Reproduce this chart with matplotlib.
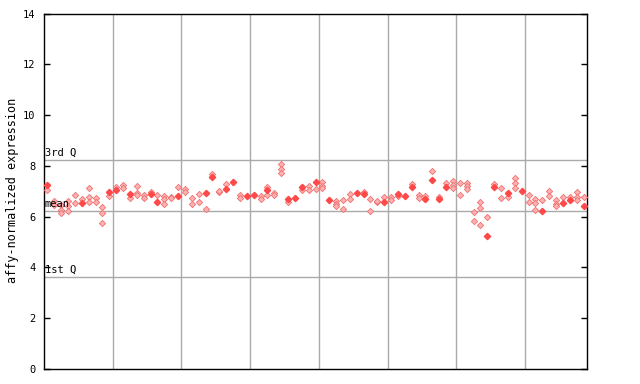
import matplotlib
matplotlib.use('Agg')
import matplotlib.pyplot as plt
import numpy as np

# values per sample position (hollow = checkered markers, filled = solid markers)
hollow = [
    [7.03], [6.60, 6.46], [6.46, 6.26, 6.14], [6.60, 6.40, 6.23], [6.85, 6.53],
    [6.69], [7.12, 6.79, 6.57], [6.73, 6.57], [6.38, 6.14, 5.75], [6.83],
    [7.16], [7.25, 7.12], [6.73], [7.22, 6.95, 6.84], [6.86, 6.73],
    [6.97], [6.86], [6.82, 6.69, 6.50], [6.77, 6.73], [7.16],
    [7.09, 6.96], [6.73, 6.50], [6.90, 6.57], [6.30], [7.66],
    [6.97, 7.02], [7.29], [], [6.86, 6.73], [],
    [], [6.82, 6.69], [7.16, 6.86], [6.95, 6.86], [8.08, 7.89, 7.72],
    [6.58], [], [7.03], [7.20, 7.03], [7.08],
    [7.35, 7.22, 7.12], [], [6.62, 6.49, 6.40], [6.66, 6.30], [6.90, 6.69],
    [], [6.97], [6.71, 6.24], [6.56, 6.60], [6.79],
    [6.79, 6.64], [6.82], [], [7.28], [6.85, 6.73],
    [6.82], [7.81], [6.77], [7.32], [7.39, 7.25, 7.12],
    [7.32, 6.86], [7.32, 7.22, 7.08], [6.18, 5.84], [6.57, 6.33, 5.68], [5.98],
    [7.28], [7.12, 6.73], [6.79], [7.52, 7.32, 7.12], [],
    [6.86, 6.57], [6.71, 6.53, 6.27], [6.64], [7.02, 6.83], [6.66, 6.49, 6.40],
    [6.79], [6.79], [6.99, 6.77, 6.64], [6.77],
]
filled = [
    7.23, None, None, None, None, 6.52, None, None, None, 6.96,
    7.05, None, 6.91, None, None, 6.89, 6.56, None, None, 6.82,
    None, None, None, 6.93, 7.56, None, 7.10, 7.36, None, 6.82,
    6.86, None, 7.05, None, None, 6.69, 6.75, 7.16, None, 7.38,
    None, 6.64, None, None, None, 6.93, 6.89, None, None, 6.58,
    None, 6.89, 6.83, 7.15, None, 6.71, 7.43, 6.69, 7.15, None,
    None, None, None, None, 5.24, 7.15, None, 6.93, None, 7.02,
    None, None, 6.24, None, None, 6.53, 6.64, None, 6.40,
]
q1, mean_val, q3 = 3.62, 6.22, 8.22
group_size = 10
y_ticks = [0, 2, 4, 6, 8, 10, 12, 14]

mono = 'DejaVu Sans Mono'
fig = plt.figure(figsize=(6.4, 3.84), dpi=100)
ax = fig.add_axes([44 / 640, 15 / 384, 543 / 640, 355.5 / 384])

n = len(hollow)
for b in np.arange(group_size - 0.5, n - 1, group_size):
    ax.axvline(b, color='#aaaaaa', lw=1, zorder=1)
for q in (q1, mean_val, q3):
    ax.axhline(q, color='#aaaaaa', lw=1, zorder=1)

hx = [i for i, vals in enumerate(hollow) for v in vals]
hy = [v for vals in hollow for v in vals]
ax.plot(hx, hy, linestyle='none', marker='D', markersize=3.2,
        markerfacecolor='#ffb0b0', markeredgecolor='#f07070', markeredgewidth=0.6, zorder=3)
fx = [i for i, v in enumerate(filled) if v is not None]
fy = [v for v in filled if v is not None]
ax.plot(fx, fy, linestyle='none', marker='D', markersize=3.2,
        color='#ff4848', zorder=4)

ax.set_xlim(-0.5, n - 0.5)
ax.set_ylim(0, 14)
ax.set_xticks([])
ax.set_yticks(y_ticks)
ax.set_yticklabels([str(t) for t in y_ticks], family=mono, fontsize=7.5)
ax.tick_params(axis='y', direction='in', length=4, width=1, right=True, pad=6)
for s in ax.spines.values():
    s.set_linewidth(1)

for q, lab in ((q3, '3rd Q'), (mean_val, 'mean'), (q1, '1st Q')):
    ax.text(0.001, q + 0.1, lab, transform=ax.get_yaxis_transform(),
            family=mono, fontsize=7.5, va='bottom', ha='left', zorder=5)

fig.text(0.019, 0.505, 'affy-normalized expression', rotation=90,
         family=mono, fontsize=8.5, va='center', ha='center')

fig.savefig('out.png', dpi=100)
